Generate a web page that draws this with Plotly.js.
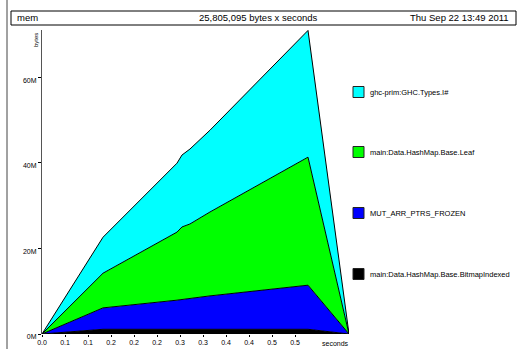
<!DOCTYPE html>
<html><head><meta charset="utf-8">
<script src="https://cdn.plot.ly/plotly-3.0.1.min.js"></script>
<style>html,body{margin:0;padding:0;background:#fff}#chart{width:520px;height:349px}</style>
</head><body><div id="chart"></div>
<script>
// sample times (seconds)
const times = [0, 0.1326, 0.2935, 0.3043, 0.3217, 0.3652, 0.5783, 0.6674];
// band sizes in bytes (stacked bottom -> top)
const bitmapIndexed = [0, 1.1e6, 1.1e6, 1.1e6, 1.1e6, 1.1e6, 1.1e6, 0];
const mutArrPtrsFrozen = [0, 5.0e6, 6.8e6, 6.9e6, 7.2e6, 7.8e6, 10.3e6, 0];
const hashMapLeaf = [0, 8.1e6, 15.9e6, 17.0e6, 17.4e6, 19.6e6, 29.9e6, 0];
const typesI = [0, 8.4e6, 16.1e6, 16.8e6, 17.5e6, 19.1e6, 29.6e6, 0];

const seriesNames = ["main:Data.HashMap.Base.BitmapIndexed", "MUT_ARR_PTRS_FROZEN", "main:Data.HashMap.Base.Leaf", "ghc-prim:GHC.Types.I#"];
const seriesColors = ["#000000", "#0000ff", "#00ff00", "#00ffff"];
const seriesData = [bitmapIndexed, mutArrPtrsFrozen, hashMapLeaf, typesI];

const xTickVals = [0, 0.05, 0.10, 0.15, 0.20, 0.25, 0.30, 0.35, 0.40, 0.45, 0.50, 0.55];
const xTickText = ["0.0", "0.1", "0.1", "0.2", "0.2", "0.2", "0.3", "0.3", "0.4", "0.4", "0.5", "0.5"];
const yTickVals = [0, 20e6, 40e6, 60e6];
const yTickText = ["0M", "20M", "40M", "60M"];

const headerLeft = "mem", headerMid = "25,805,095 bytes x seconds", headerRight = "Thu Sep 22 13:49 2011";

const W = 520, H = 349, ML = 42, MR = 171, MT = 30, MB = 15;
const PW = W - ML - MR, PH = H - MT - MB;
const px = x => (x - ML) / PW;
const py = y => (H - MB - y) / PH;
const FONT = "Liberation Sans, Arial, Helvetica, sans-serif";

const traces = seriesData.map((d, i) => ({
  x: times, y: d, type: "scatter", mode: "lines", stackgroup: "one",
  name: seriesNames[i], fillcolor: seriesColors[i],
  line: {color: "#000", width: 1}, hoverinfo: "skip", showlegend: false
}));

const shapes = [
  {type: "line", xref: "paper", yref: "paper", x0: px(7), x1: px(7), y0: py(0), y1: py(349), line: {color: "#444", width: 1}},
  {type: "rect", xref: "paper", yref: "paper", x0: px(11), x1: px(516), y0: py(11), y1: py(25), line: {color: "#000", width: 1}}
];
const annotations = [
  {xref: "paper", yref: "paper", x: px(15), y: py(18), text: headerLeft, showarrow: false, xanchor: "left", yanchor: "middle", font: {size: 9.5, family: FONT, color: "#000"}},
  {xref: "paper", yref: "paper", x: px(258), y: py(18), text: headerMid, showarrow: false, xanchor: "center", yanchor: "middle", font: {size: 9.5, family: FONT, color: "#000"}},
  {xref: "paper", yref: "paper", x: px(511), y: py(18), text: headerRight, showarrow: false, xanchor: "right", yanchor: "middle", font: {size: 9.5, family: FONT, color: "#000"}},
  {xref: "paper", yref: "paper", x: px(36), y: py(40), text: "bytes", showarrow: false, textangle: -90, xanchor: "center", yanchor: "middle", font: {size: 6, family: FONT, color: "#000"}},
  {xref: "paper", yref: "paper", x: px(335), y: py(343), text: "seconds", showarrow: false, xanchor: "center", yanchor: "middle", font: {size: 7, family: FONT, color: "#000"}}
];
const legendY = [274, 213, 152, 92];
seriesNames.forEach((n, i) => {
  const cy = legendY[i];
  shapes.push({type: "rect", xref: "paper", yref: "paper", x0: px(353), x1: px(364), y0: py(cy - 5.5), y1: py(cy + 5.5), fillcolor: seriesColors[i], line: {color: "#222", width: 1}});
  annotations.push({xref: "paper", yref: "paper", x: px(368), y: py(cy), text: n, showarrow: false, xanchor: "left", yanchor: "middle", font: {size: 7.5, family: FONT, color: "#000"}});
});

const layout = {
  width: W, height: H, margin: {l: ML, r: MR, t: MT, b: MB, pad: 0},
  paper_bgcolor: "#fff", plot_bgcolor: "#fff", showlegend: false,
  font: {family: FONT, color: "#000"},
  xaxis: {range: [0, times[times.length - 1]], showgrid: false, zeroline: false, showline: false,
    tickmode: "array", tickvals: xTickVals, ticktext: xTickText, ticks: "outside", ticklen: 2, tickcolor: "#000",
    tickfont: {size: 7, family: FONT, color: "#000"}, fixedrange: true},
  yaxis: {range: [0, 71.0e6], showgrid: false, zeroline: false, showline: true, linecolor: "#555", linewidth: 1,
    tickmode: "array", tickvals: yTickVals, ticktext: yTickText, ticks: "outside", ticklen: 3, tickcolor: "#000",
    ticklabelshift: 3, tickfont: {size: 7, family: FONT, color: "#000"}, fixedrange: true},
  shapes: shapes, annotations: annotations
};
Plotly.newPlot("chart", traces, layout, {staticPlot: true, displayModeBar: false});
</script></body></html>
